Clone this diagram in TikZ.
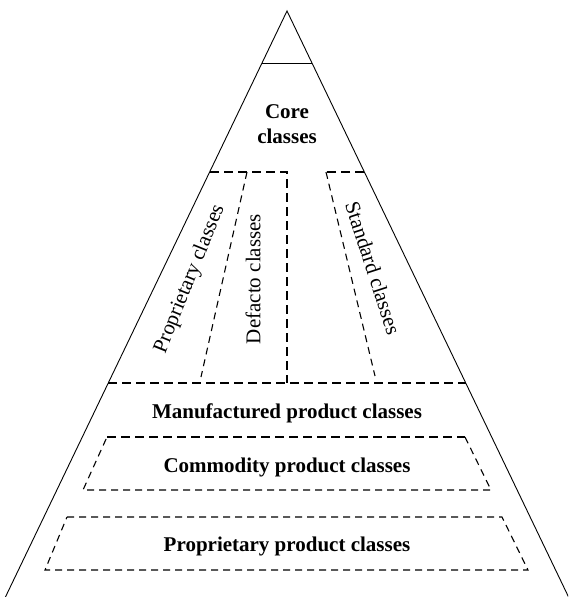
\documentclass[tikz,border=0pt]{standalone}
\usepackage{fontspec}
\setmainfont{Liberation Serif}
\begin{document}
\begin{tikzpicture}[x=1pt,y=-1pt,
  edge/.style={line width=0.9pt},
  heavydash/.style={line width=2.4pt,dash pattern=on 9pt off 5pt},
  lightdash/.style={line width=1.1pt,dash pattern=on 7pt off 5pt},
  layerlabel/.style={font=\fontsize{21}{25}\selectfont\bfseries,align=center,inner sep=0pt},
  sidelabel/.style={font=\fontsize{21}{24}\selectfont,inner sep=0pt}]
\useasboundingbox[fill=white] (0,0) rectangle (568,597);
\clip (0,0) rectangle (568,597);

% outer pyramid
\coordinate (apex) at (287,11);
\coordinate (baseL) at (4,600);
\coordinate (baseR) at (570,600);
\coordinate (capL) at (262,63);
\coordinate (capR) at (312,63);
\draw[edge] (baseL) -- (apex) -- (baseR);
\draw[edge] (capL) -- (capR);

% middle band with its three vertical sections
\coordinate (bandTL) at (210,172);
\coordinate (bandMid) at (287,172);
\coordinate (bandMidB) at (287,383);
\coordinate (bandBL) at (108,383);
\coordinate (bandBR) at (466,383);
\coordinate (stdTL) at (326,172);
\coordinate (stdTR) at (364,172);
\coordinate (sepTop) at (247,172);
\coordinate (sepBot) at (201,377);
\coordinate (stdBot) at (375,376);
\draw[heavydash] (bandTL) -- (bandMid) -- (bandMidB);
\draw[heavydash] (bandBL) -- (bandBR);
\draw[heavydash] (stdTR) -- (stdTL);
\draw[lightdash] (sepTop) -- (sepBot);
\draw[lightdash] (stdTL) -- (stdBot);

% commodity layer
\coordinate (comTL) at (107,437);
\coordinate (comTR) at (465,437);
\coordinate (comBR) at (491,490);
\coordinate (comBL) at (83,490);
\draw[heavydash] (comTL) -- (comTR);
\draw[lightdash] (comTR) -- (comBR) -- (comBL) -- (comTL);

% proprietary product layer
\coordinate (ppTL) at (67,517);
\coordinate (ppTR) at (502,517);
\coordinate (ppBR) at (528,570);
\coordinate (ppBL) at (45,570);
\draw[lightdash] (ppTL) -- (ppTR) -- (ppBR) -- (ppBL) -- cycle;

% labels
\node[layerlabel] (core) at (287,124) {Core\\classes};
\node[sidelabel,rotate=68] (prop) at (190,279) {Proprietary classes};
\node[sidelabel,rotate=90] (defacto) at (253,279) {Defacto classes};
\node[sidelabel,rotate=-72] (std) at (373,268) {Standard classes};
\node[layerlabel] (manu) at (287,413) {Manufactured product classes};
\node[layerlabel] (comm) at (287,467) {Commodity product classes};
\node[layerlabel] (ppc) at (287,546) {Proprietary product classes};
\end{tikzpicture}
\end{document}
